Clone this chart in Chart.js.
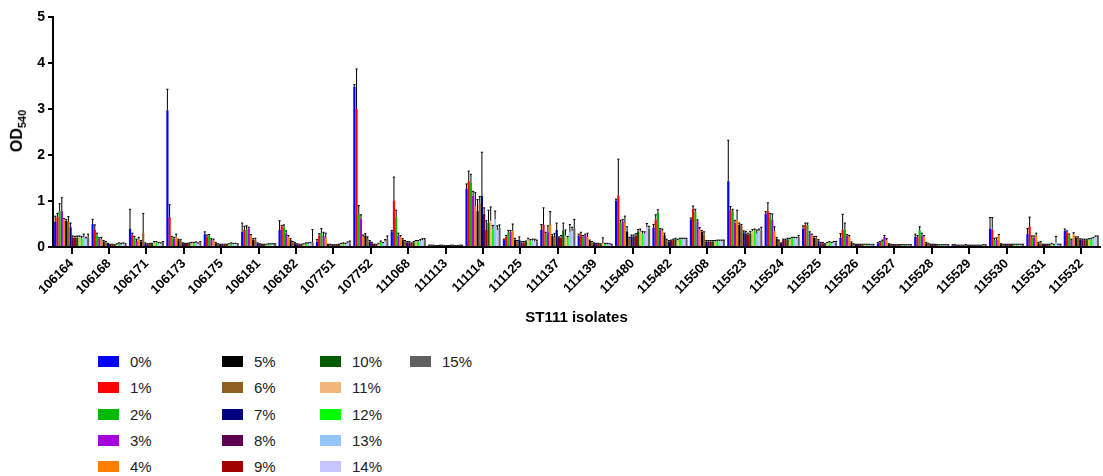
<!DOCTYPE html>
<html>
<head>
<meta charset="utf-8">
<script src="https://cdn.jsdelivr.net/npm/chart.js@4.4.1/dist/chart.umd.min.js"></script>
<style>
  body { margin: 0; background: #fff; font-family: 'Liberation Sans', Arial, sans-serif; }
  #wrap { position: relative; width: 1103px; height: 476px; overflow: hidden; }
  #chart { position: absolute; left: 0; top: 0; }
  #ytitle { position: absolute; left: 18px; top: 131px; transform: translate(-50%, -50%) rotate(-90deg);
            font-weight: bold; font-size: 16px; white-space: nowrap; color: #000; }
  #ytitle sub { font-size: 11px; }
  .lg { position: absolute; height: 11px; }
  .lg span.sw { position: absolute; left: 0; top: 0; width: 21px; height: 11px; }
  .lg span.tx { position: absolute; left: 32px; top: -3px; font-size: 15px; line-height: 17px; color: #222; white-space: nowrap; }
</style>
</head>
<body>
<div id="wrap">
  <canvas id="chart" width="1103" height="331"></canvas>
  <div id="ytitle">OD<sub>540</sub></div>
  <div id="legend"></div>
</div>
<script>
// isolates on the x axis
const isolates = ['106164', '106168', '106171', '106173', '106175', '106181', '106182', '107751', '107752',
  '111068', '111113', '111114', '111125', '111137', '111139', '115480', '115482', '115508', '115523',
  '115524', '115525', '115526', '115527', '115528', '115529', '115530', '115531', '115532'];

// concentration series
const concentrations = ['0%', '1%', '2%', '3%', '4%', '5%', '6%', '7%', '8%', '9%', '10%', '11%', '12%', '13%', '14%', '15%'];
const seriesColors = ['#0000FF', '#FF0000', '#00BB00', '#A600DD', '#FF8000', '#000000', '#8F5F1E', '#000080',
  '#5C004F', '#A00000', '#005C00', '#F2B67C', '#00FF00', '#94C4FA', '#C4C4FF', '#606060'];

const yTicks = [0, 1, 2, 3, 4, 5];

// mean OD540 per isolate (one value per concentration, 0% .. 15%)
const m106164 = [0.55, 0.65, 0.78, 0.78, 0.60, 0.57, 0.55, 0.43, 0.20, 0.20, 0.20, 0.22, 0.19, 0.22, 0.18, 0.20];
const m106168 = [0.50, 0.38, 0.25, 0.18, 0.17, 0.12, 0.10, 0.07, 0.05, 0.05, 0.04, 0.05, 0.06, 0.05, 0.07, 0.05];
const m106171 = [0.40, 0.26, 0.20, 0.13, 0.17, 0.12, 0.30, 0.07, 0.06, 0.06, 0.07, 0.09, 0.10, 0.08, 0.08, 0.10];
const m106173 = [2.97, 0.65, 0.20, 0.18, 0.22, 0.15, 0.14, 0.08, 0.07, 0.07, 0.08, 0.08, 0.08, 0.09, 0.08, 0.10];
const m106175 = [0.28, 0.22, 0.24, 0.15, 0.14, 0.08, 0.06, 0.05, 0.05, 0.05, 0.05, 0.06, 0.07, 0.07, 0.07, 0.06];
const m106181 = [0.33, 0.37, 0.38, 0.40, 0.25, 0.15, 0.16, 0.08, 0.06, 0.05, 0.05, 0.05, 0.06, 0.06, 0.06, 0.06];
const m106182 = [0.37, 0.45, 0.43, 0.30, 0.22, 0.15, 0.10, 0.08, 0.06, 0.05, 0.05, 0.06, 0.07, 0.07, 0.08, 0.10];
const m107751 = [0.12, 0.25, 0.30, 0.24, 0.20, 0.05, 0.05, 0.04, 0.04, 0.04, 0.05, 0.06, 0.07, 0.06, 0.08, 0.08];
const m107752 = [3.49, 3.00, 0.72, 0.62, 0.22, 0.25, 0.18, 0.12, 0.08, 0.05, 0.05, 0.06, 0.10, 0.08, 0.12, 0.18];
const m111068 = [0.34, 1.01, 0.65, 0.25, 0.22, 0.15, 0.12, 0.10, 0.10, 0.08, 0.10, 0.12, 0.12, 0.13, 0.15, 0.15];
const m111113 = [0.03, 0.03, 0.03, 0.02, 0.02, 0.03, 0.03, 0.02, 0.02, 0.02, 0.03, 0.03, 0.02, 0.02, 0.03, 0.03];
const m111114 = [1.27, 1.43, 1.40, 1.11, 0.89, 0.78, 0.95, 1.11, 0.72, 0.37, 0.53, 0.57, 0.39, 0.61, 0.37, 0.42];
const m111125 = [0.15, 0.22, 0.31, 0.33, 0.35, 0.16, 0.12, 0.16, 0.10, 0.10, 0.11, 0.17, 0.14, 0.14, 0.12, 0.12];
const m111137 = [0.37, 0.48, 0.28, 0.32, 0.48, 0.24, 0.22, 0.37, 0.20, 0.20, 0.36, 0.25, 0.20, 0.33, 0.35, 0.40];
const m111139 = [0.25, 0.27, 0.23, 0.26, 0.22, 0.13, 0.10, 0.08, 0.07, 0.07, 0.06, 0.08, 0.06, 0.06, 0.06, 0.05];
const m115480 = [1.01, 1.12, 0.54, 0.56, 0.52, 0.34, 0.18, 0.23, 0.23, 0.25, 0.34, 0.34, 0.29, 0.29, 0.43, 0.40];
const m115482 = [0.42, 0.60, 0.74, 0.37, 0.35, 0.26, 0.14, 0.12, 0.13, 0.15, 0.17, 0.15, 0.17, 0.17, 0.17, 0.17];
const m115508 = [0.60, 0.83, 0.77, 0.56, 0.38, 0.33, 0.27, 0.12, 0.12, 0.12, 0.12, 0.12, 0.13, 0.13, 0.13, 0.13];
const m115523 = [1.43, 0.80, 0.77, 0.53, 0.58, 0.48, 0.46, 0.32, 0.29, 0.27, 0.29, 0.35, 0.36, 0.29, 0.35, 0.36];
const m115524 = [0.73, 0.78, 0.63, 0.59, 0.35, 0.18, 0.13, 0.08, 0.15, 0.15, 0.17, 0.17, 0.19, 0.19, 0.19, 0.22];
const m115525 = [0.40, 0.48, 0.48, 0.30, 0.25, 0.20, 0.20, 0.14, 0.08, 0.08, 0.06, 0.08, 0.10, 0.08, 0.10, 0.10];
const m115526 = [0.20, 0.38, 0.38, 0.24, 0.22, 0.09, 0.06, 0.05, 0.05, 0.05, 0.05, 0.05, 0.05, 0.05, 0.04, 0.05];
const m115527 = [0.08, 0.10, 0.13, 0.22, 0.15, 0.06, 0.05, 0.04, 0.04, 0.04, 0.04, 0.04, 0.04, 0.04, 0.04, 0.04];
const m115528 = [0.22, 0.22, 0.37, 0.25, 0.22, 0.08, 0.07, 0.05, 0.05, 0.05, 0.04, 0.04, 0.04, 0.04, 0.04, 0.04];
const m115529 = [0.04, 0.04, 0.03, 0.03, 0.03, 0.03, 0.04, 0.03, 0.03, 0.03, 0.03, 0.03, 0.03, 0.03, 0.04, 0.04];
const m115530 = [0.40, 0.38, 0.15, 0.15, 0.25, 0.06, 0.05, 0.05, 0.05, 0.05, 0.05, 0.05, 0.05, 0.05, 0.05, 0.05];
const m115531 = [0.28, 0.45, 0.20, 0.20, 0.25, 0.08, 0.10, 0.05, 0.05, 0.05, 0.05, 0.06, 0.05, 0.10, 0.05, 0.05];
const m115532 = [0.35, 0.32, 0.25, 0.15, 0.28, 0.20, 0.20, 0.16, 0.15, 0.15, 0.15, 0.16, 0.17, 0.19, 0.22, 0.22];

// SD per isolate (upper error bar)
const s106164 = [0.12, 0.08, 0.16, 0.29, 0.02, 0.03, 0.11, 0.09, 0.04, 0.03, 0.04, 0.02, 0.04, 0.06, 0.03, 0.08];
const s106168 = [0.10, 0.10, 0.05, 0.02, 0.04, 0.02, 0.02, 0.01, 0.01, 0.01, 0.01, 0.02, 0.03, 0.03, 0.02, 0.02];
const s106171 = [0.42, 0.04, 0.03, 0.04, 0.04, 0.02, 0.43, 0.02, 0.01, 0.02, 0.01, 0.03, 0.02, 0.02, 0.01, 0.02];
const s106173 = [0.46, 0.27, 0.03, 0.03, 0.06, 0.02, 0.02, 0.01, 0.01, 0.01, 0.01, 0.02, 0.02, 0.02, 0.01, 0.02];
const s106175 = [0.05, 0.04, 0.03, 0.03, 0.03, 0.02, 0.01, 0.01, 0.01, 0.01, 0.01, 0.01, 0.02, 0.01, 0.01, 0.01];
const s106181 = [0.19, 0.08, 0.08, 0.03, 0.02, 0.03, 0.03, 0.01, 0.01, 0.01, 0.01, 0.01, 0.01, 0.01, 0.01, 0.01];
const s106182 = [0.20, 0.02, 0.05, 0.05, 0.03, 0.03, 0.02, 0.02, 0.01, 0.01, 0.01, 0.01, 0.02, 0.02, 0.02, 0.28];
const s107751 = [0.04, 0.04, 0.10, 0.08, 0.10, 0.01, 0.01, 0.01, 0.01, 0.01, 0.01, 0.02, 0.02, 0.02, 0.03, 0.05];
const s107752 = [0.04, 0.87, 0.18, 0.08, 0.04, 0.04, 0.04, 0.02, 0.02, 0.01, 0.01, 0.02, 0.03, 0.02, 0.04, 0.06];
const s111068 = [0.02, 0.51, 0.15, 0.05, 0.03, 0.03, 0.02, 0.02, 0.02, 0.01, 0.02, 0.02, 0.02, 0.03, 0.03, 0.03];
const s111113 = [0.01, 0.01, 0.01, 0.01, 0.01, 0.01, 0.01, 0.01, 0.01, 0.01, 0.01, 0.01, 0.01, 0.01, 0.01, 0.01];
const s111114 = [0.10, 0.22, 0.18, 0.10, 0.29, 0.25, 0.15, 0.95, 0.13, 0.20, 0.27, 0.30, 0.08, 0.17, 0.09, 0.06];
const s111125 = [0.02, 0.03, 0.05, 0.03, 0.15, 0.03, 0.02, 0.06, 0.02, 0.02, 0.02, 0.02, 0.02, 0.03, 0.05, 0.03];
const s111137 = [0.12, 0.37, 0.04, 0.14, 0.29, 0.03, 0.07, 0.15, 0.02, 0.05, 0.16, 0.12, 0.03, 0.16, 0.08, 0.20];
const s111139 = [0.03, 0.05, 0.02, 0.02, 0.08, 0.02, 0.02, 0.01, 0.01, 0.01, 0.01, 0.12, 0.02, 0.02, 0.01, 0.01];
const s115480 = [0.03, 0.79, 0.04, 0.04, 0.15, 0.10, 0.03, 0.03, 0.03, 0.04, 0.04, 0.05, 0.05, 0.04, 0.08, 0.05];
const s115482 = [0.07, 0.10, 0.07, 0.03, 0.04, 0.04, 0.03, 0.02, 0.02, 0.02, 0.02, 0.02, 0.02, 0.02, 0.02, 0.02];
const s115508 = [0.03, 0.06, 0.05, 0.03, 0.04, 0.03, 0.06, 0.02, 0.02, 0.02, 0.02, 0.02, 0.02, 0.02, 0.02, 0.02];
const s115523 = [0.89, 0.08, 0.05, 0.05, 0.22, 0.04, 0.03, 0.03, 0.05, 0.03, 0.05, 0.03, 0.03, 0.08, 0.04, 0.07];
const s115524 = [0.04, 0.18, 0.10, 0.13, 0.09, 0.03, 0.02, 0.01, 0.02, 0.02, 0.02, 0.02, 0.02, 0.02, 0.02, 0.03];
const s115525 = [0.06, 0.04, 0.04, 0.03, 0.03, 0.03, 0.03, 0.02, 0.02, 0.02, 0.01, 0.02, 0.02, 0.02, 0.02, 0.02];
const s115526 = [0.09, 0.33, 0.14, 0.03, 0.03, 0.02, 0.01, 0.01, 0.01, 0.01, 0.01, 0.01, 0.01, 0.01, 0.01, 0.01];
const s115527 = [0.02, 0.02, 0.02, 0.03, 0.03, 0.01, 0.01, 0.01, 0.01, 0.01, 0.01, 0.01, 0.01, 0.01, 0.01, 0.01];
const s115528 = [0.06, 0.03, 0.07, 0.05, 0.03, 0.02, 0.01, 0.01, 0.01, 0.01, 0.01, 0.01, 0.01, 0.01, 0.01, 0.01];
const s115529 = [0.01, 0.01, 0.01, 0.01, 0.01, 0.01, 0.01, 0.01, 0.01, 0.01, 0.01, 0.01, 0.01, 0.01, 0.01, 0.01];
const s115530 = [0.24, 0.26, 0.04, 0.05, 0.02, 0.01, 0.01, 0.01, 0.01, 0.01, 0.01, 0.01, 0.01, 0.01, 0.01, 0.01];
const s115531 = [0.12, 0.20, 0.04, 0.04, 0.05, 0.02, 0.02, 0.01, 0.01, 0.01, 0.01, 0.02, 0.01, 0.13, 0.01, 0.01];
const s115532 = [0.04, 0.03, 0.03, 0.02, 0.03, 0.02, 0.02, 0.02, 0.02, 0.02, 0.02, 0.02, 0.02, 0.02, 0.02, 0.02];

const meanRows = [m106164, m106168, m106171, m106173, m106175, m106181, m106182, m107751, m107752, m111068,
  m111113, m111114, m111125, m111137, m111139, m115480, m115482, m115508, m115523, m115524, m115525,
  m115526, m115527, m115528, m115529, m115530, m115531, m115532];
const sdRows = [s106164, s106168, s106171, s106173, s106175, s106181, s106182, s107751, s107752, s111068,
  s111113, s111114, s111125, s111137, s111139, s115480, s115482, s115508, s115523, s115524, s115525,
  s115526, s115527, s115528, s115529, s115530, s115531, s115532];

const FONT = "'Liberation Sans', Arial, sans-serif";

// one dataset per concentration
const datasets = concentrations.map((c, k) => ({
  label: c,
  data: meanRows.map(row => row[k]),
  sd: sdRows.map(row => row[k]),
  backgroundColor: seriesColors[k],
  borderWidth: 0,
  barPercentage: 1,
  categoryPercentage: 0.94
}));

// upper error bars (mean + SD)
const errorBars = {
  id: 'errorBars',
  afterDatasetsDraw(chart) {
    const ctx = chart.ctx;
    const y = chart.scales.y;
    ctx.save();
    ctx.strokeStyle = '#000';
    ctx.lineWidth = 1;
    chart.data.datasets.forEach((ds, i) => {
      const meta = chart.getDatasetMeta(i);
      meta.data.forEach((bar, j) => {
        const top = y.getPixelForValue(ds.data[j] + ds.sd[j]);
        const half = bar.width / 2;
        ctx.beginPath();
        ctx.moveTo(bar.x, bar.y);
        ctx.lineTo(bar.x, top);
        ctx.moveTo(bar.x - half, top);
        ctx.lineTo(bar.x + half, top);
        ctx.stroke();
      });
    });
    ctx.restore();
  }
};

new Chart(document.getElementById('chart'), {
  type: 'bar',
  data: { labels: isolates, datasets: datasets },
  options: {
    responsive: false,
    animation: false,
    devicePixelRatio: 1,
    layout: { padding: { top: 17, right: 3, left: 0, bottom: 0 } },
    plugins: {
      legend: { display: false },
      tooltip: { enabled: false }
    },
    scales: {
      x: {
        offset: true,
        grid: { display: true, offset: false, drawOnChartArea: false, drawTicks: true, tickLength: 7, color: '#000', lineWidth: 2 },
        border: { color: '#000', width: 2 },
        ticks: { autoSkip: false, minRotation: 45, maxRotation: 45, padding: 2, color: '#000',
                 font: { family: FONT, size: 13, weight: 'bold' } },
        title: { display: true, text: 'ST111 isolates', color: '#000',
                 font: { family: FONT, size: 15, weight: 'bold' }, padding: { top: 4, bottom: 4 } },
        afterFit: s => { s.height = 84; }
      },
      y: {
        min: 0,
        max: 5,
        afterBuildTicks: s => { s.ticks = yTicks.map(v => ({ value: v })); },
        grid: { display: true, drawOnChartArea: false, drawTicks: true, tickLength: 5, color: '#000', lineWidth: 2 },
        border: { color: '#000', width: 2 },
        ticks: { padding: 3, color: '#000', font: { family: FONT, size: 14, weight: 'bold' } },
        afterFit: s => { s.width = 53; }
      }
    }
  },
  plugins: [errorBars]
});

// legend: 4 columns, filled top to bottom, 5 rows each
const legendCols = [98, 222, 320, 410];
const legendTop = 356;
const legendRow = 26.3;
const legend = document.getElementById('legend');
concentrations.forEach((c, k) => {
  const col = Math.floor(k / 5);
  const row = k % 5;
  const item = document.createElement('div');
  item.className = 'lg';
  item.style.left = legendCols[col] + 'px';
  item.style.top = (legendTop + row * legendRow) + 'px';
  item.innerHTML = '<span class="sw" style="background:' + seriesColors[k] + '"></span><span class="tx">' + c + '</span>';
  legend.appendChild(item);
});
</script>
</body>
</html>
